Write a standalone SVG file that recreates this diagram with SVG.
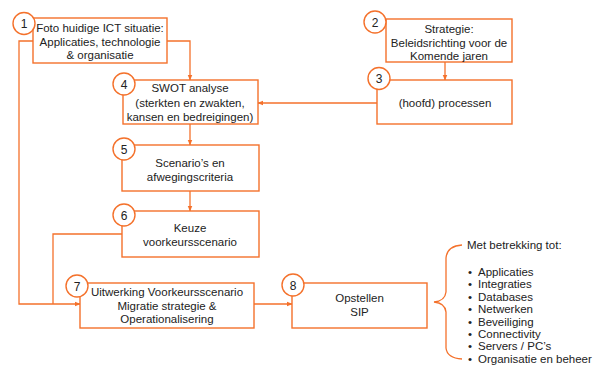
<svg xmlns="http://www.w3.org/2000/svg" width="599" height="365" viewBox="0 0 599 365">
<defs>
<marker id="ah" viewBox="0 0 10 10" refX="9" refY="5" markerWidth="6" markerHeight="6" markerUnits="userSpaceOnUse" orient="auto"><path d="M0,1 L10,5 L0,9 z" fill="#F4712B"/></marker>
<style>
.box{fill:#fff;stroke:#F4712B;stroke-width:1.4}
.circ{fill:#fff;stroke:#F4712B;stroke-width:1.4}
.ln{fill:none;stroke:#F4712B;stroke-width:1.3}
text{font-family:"Liberation Sans",Arial,sans-serif;font-size:11.5px;fill:#222}
.c{text-anchor:middle}
.n{font-size:12px;text-anchor:middle}
</style>
</defs>
<rect width="599" height="365" fill="#fff"/>
<g id="connectors">
<path class="ln" d="M167,41 H190 V80" marker-end="url(#ah)"/>
<path class="ln" d="M377,103 H258" marker-end="url(#ah)"/>
<path class="ln" d="M445,62 V80" marker-end="url(#ah)"/>
<path class="ln" d="M190,124 V145" marker-end="url(#ah)"/>
<path class="ln" d="M190,191 V211" marker-end="url(#ah)"/>
<path class="ln" d="M33,41 H19 V304 H80" marker-end="url(#ah)"/>
<path class="ln" d="M122,234 H53 V304"/>
<path class="ln" d="M254,304 H292" marker-end="url(#ah)"/>
<path class="ln" d="M462,245 Q447,246 446,258 V292 Q445,301 434,302 Q445,303 446,312 V348 Q447,358 462,359"/>
</g>
<g id="n1">
<rect class="box" x="33" y="18" width="134" height="45"/>
<text class="c" x="100" y="32">Foto huidige ICT situatie:</text>
<text class="c" x="100" y="45.5">Applicaties, technologie</text>
<text class="c" x="100" y="59">&amp; organisatie</text>
<circle class="circ" cx="24" cy="23.5" r="11"/>
<text class="n" x="24" y="28">1</text>
</g>
<g id="n2">
<rect class="box" x="386" y="19" width="126" height="43"/>
<text class="c" x="449" y="33">Strategie:</text>
<text class="c" x="449" y="46.5">Beleidsrichting voor de</text>
<text class="c" x="449" y="60">Komende jaren</text>
<circle class="circ" cx="375" cy="22" r="11"/>
<text class="n" x="375" y="26.5">2</text>
</g>
<g id="n3">
<rect class="box" x="377" y="80" width="135" height="44"/>
<text class="c" x="445" y="107">(hoofd) processen</text>
<circle class="circ" cx="379" cy="78.5" r="11"/>
<text class="n" x="379" y="83">3</text>
</g>
<g id="n4">
<rect class="box" x="123" y="80" width="135" height="44"/>
<text class="c" x="190" y="92">SWOT analyse</text>
<text class="c" x="190" y="106.5">(sterkten en zwakten,</text>
<text class="c" x="190" y="121">kansen en bedreigingen)</text>
<circle class="circ" cx="124" cy="84" r="11"/>
<text class="n" x="124" y="88.5">4</text>
</g>
<g id="n5">
<rect class="box" x="122" y="145" width="137" height="46"/>
<text class="c" x="190" y="167">Scenario’s en</text>
<text class="c" x="190" y="180.5">afwegingscriteria</text>
<circle class="circ" cx="124" cy="149" r="11"/>
<text class="n" x="124" y="153.5">5</text>
</g>
<g id="n6">
<rect class="box" x="122" y="211" width="137" height="46"/>
<text class="c" x="190" y="232">Keuze</text>
<text class="c" x="190" y="246">voorkeursscenario</text>
<circle class="circ" cx="124" cy="215" r="11"/>
<text class="n" x="124" y="219.5">6</text>
</g>
<g id="n7">
<rect class="box" x="80" y="283" width="174" height="45"/>
<text class="c" x="167" y="296">Uitwerking Voorkeursscenario</text>
<text class="c" x="167" y="309.5">Migratie strategie &amp;</text>
<text class="c" x="167" y="323">Operationalisering</text>
<circle class="circ" cx="77" cy="286" r="11"/>
<text class="n" x="77" y="290.5">7</text>
</g>
<g id="n8">
<rect class="box" x="292" y="283" width="135" height="45"/>
<text class="c" x="359.5" y="302">Opstellen</text>
<text class="c" x="359.5" y="316">SIP</text>
<circle class="circ" cx="293" cy="285" r="11"/>
<text class="n" x="293" y="289.5">8</text>
</g>
<g id="list">
<text x="467" y="249">Met betrekking tot:</text>
<text x="468" y="276">•</text><text x="478" y="276">Applicaties</text>
<text x="468" y="288.4">•</text><text x="478" y="288.4">Integraties</text>
<text x="468" y="300.8">•</text><text x="478" y="300.8">Databases</text>
<text x="468" y="313.2">•</text><text x="478" y="313.2">Netwerken</text>
<text x="468" y="325.6">•</text><text x="478" y="325.6">Beveiliging</text>
<text x="468" y="338">•</text><text x="478" y="338">Connectivity</text>
<text x="468" y="350.4">•</text><text x="478" y="350.4">Servers / PC’s</text>
<text x="468" y="362.8">•</text><text x="478" y="362.8">Organisatie en beheer</text>
</g>
</svg>
